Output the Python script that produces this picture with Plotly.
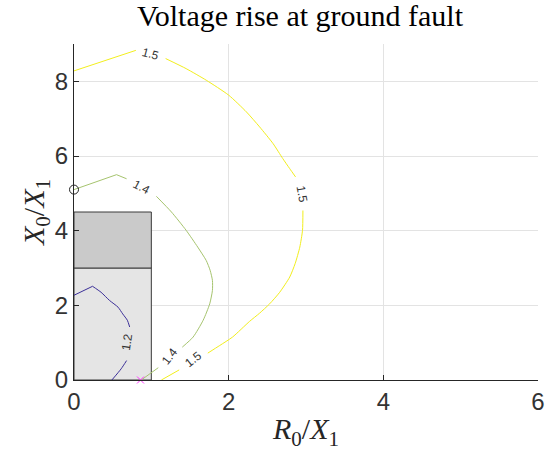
import plotly.graph_objects as go

# Contour lines (earth-fault factor); None = gap for a label
# straight pieces near the kinks
c15_kink_x = [0.00, 0.40, 0.80]
c15_kink_y = [8.28, 8.55, 8.83]
c15_x = [1.185, 1.45, 1.71, 2.00, 2.23, 2.40, 2.575, 2.70, 2.79, 2.865, None,
         2.96, 2.955, 2.92, 2.86, 2.79, 2.66, 2.53, 2.40, 2.27, 2.05, 1.885, 1.73, None,
         1.36, 1.13]
c15_y = [8.61, 8.34, 8.03, 7.63, 7.18, 6.78, 6.33, 5.93, 5.66, 5.44, None,
         4.54, 4.01, 3.56, 3.12, 2.76, 2.35, 2.04, 1.79, 1.57, 1.15, 0.925, 0.72, None,
         0.27, 0.00]

c14_kink_x = [0.00, 0.55, 0.68]
c14_kink_y = [5.10, 5.50, 5.39]
c14_x = [1.065, 1.26, 1.45, 1.60, 1.71, 1.76, 1.79, 1.79, 1.755, 1.67, 1.54, 1.40, None,
         1.09, 0.87]
c14_y = [4.92, 4.50, 4.01, 3.56, 3.20, 2.94, 2.67, 2.40, 2.04, 1.60, 1.15, 0.88, None,
         0.33, 0.00]

c12_kink_x = [0.00, 0.24]
c12_kink_y = [2.27, 2.51]
c12_x = [0.24, 0.35, 0.46, 0.57, 0.63, 0.69, 0.72, None, 0.68, 0.61, 0.49]
c12_y = [2.51, 2.35, 2.13, 1.95, 1.77, 1.60, 1.42, None, 0.52, 0.30, 0.00]

# Contour labels: text, x, y, angle
lab_text = ["1.5", "1.5", "1.5", "1.4", "1.4", "1.2"]
lab_x = [0.99, 2.95, 1.55, 0.87, 1.24, 0.69]
lab_y = [8.74, 4.99, 0.55, 5.17, 0.64, 1.01]
lab_ang = [15, 80, -38, 28, -52, -82]

# Regions (R0/X1, X0/X1)
reg_light = [0, 0, 1, 3]
reg_dark = [0, 3, 1, 4.5]

# Markers
circ_x, circ_y = [0.0], [5.10]
cross_x, cross_y = [0.86], [0.0]

x_ticks = [0, 2, 4, 6]
y_ticks = [0, 2, 4, 6, 8]

fig = go.Figure()

fig.add_shape(type="rect", x0=reg_light[0], y0=reg_light[1], x1=reg_light[2], y1=reg_light[3],
              xref="x", yref="y", fillcolor="#e5e5e5", line=dict(color="#3a3a3a", width=1),
              layer="between")
fig.add_shape(type="rect", x0=reg_dark[0], y0=reg_dark[1], x1=reg_dark[2], y1=reg_dark[3],
              xref="x", yref="y", fillcolor="#cacaca", line=dict(color="#3a3a3a", width=1),
              layer="between")

colors = {"15": "#f2ee1c", "14": "#a6c46e", "12": "#3b2f98"}
for key, kx, ky, sx, sy in [("15", c15_kink_x, c15_kink_y, c15_x, c15_y),
                            ("14", c14_kink_x, c14_kink_y, c14_x, c14_y),
                            ("12", c12_kink_x, c12_kink_y, c12_x, c12_y)]:
    fig.add_trace(go.Scatter(x=kx, y=ky, mode="lines",
                             line=dict(color=colors[key], width=1),
                             showlegend=False))
    fig.add_trace(go.Scatter(x=sx, y=sy, mode="lines",
                             line=dict(color=colors[key], width=1, shape="spline", smoothing=0.6),
                             connectgaps=False, showlegend=False))

fig.add_trace(go.Scatter(x=circ_x, y=circ_y, mode="markers",
                         marker=dict(symbol="circle-open", size=9, color="#222222",
                                     line=dict(width=1)),
                         showlegend=False, cliponaxis=False))
fig.add_trace(go.Scatter(x=cross_x, y=cross_y, mode="markers",
                         marker=dict(symbol="x-thin-open", size=7, color="#ff33ff",
                                     line=dict(width=1, color="#ff33ff")),
                         showlegend=False, cliponaxis=False))

for t, x, y, a in zip(lab_text, lab_x, lab_y, lab_ang):
    fig.add_annotation(x=x, y=y, xref="x", yref="y", text=t, showarrow=False,
                       textangle=a, font=dict(family="Liberation Sans", size=12, color="#333333"))

axis_common = dict(
    showgrid=True, gridcolor="#e3e3e3", gridwidth=1,
    showline=True, linecolor="#262626", linewidth=1,
    ticks="inside", ticklen=5, tickcolor="#262626", tickwidth=1,
    tickfont=dict(family="Liberation Sans", size=24, color="#333333"),
    zeroline=False, mirror=False, automargin=False,
)

fig.update_layout(
    width=547, height=452,
    margin=dict(l=74, r=9, t=44, b=72),
    plot_bgcolor="white", paper_bgcolor="white",
    title=dict(text="Voltage rise at ground fault", x=300 / 547, xref="container",
               y=1 - 15 / 452, yref="container", xanchor="center", yanchor="middle",
               font=dict(family="Liberation Serif", size=30, color="black")),
    xaxis=dict(range=[0, 6], tickvals=x_ticks,
               title=dict(text="<i>R</i><sub>0</sub>/<i>X</i><sub>1</sub>",
                          font=dict(family="Liberation Serif", size=30, color="#262626"),
                          standoff=4),
               **axis_common),
    yaxis=dict(range=[0, 9], tickvals=y_ticks,
               title=dict(text="<i>X</i><sub>0</sub>/<i>X</i><sub>1</sub>",
                          font=dict(family="Liberation Serif", size=30, color="#262626"),
                          standoff=1),
               **axis_common),
)

fig.write_html("out.html")
